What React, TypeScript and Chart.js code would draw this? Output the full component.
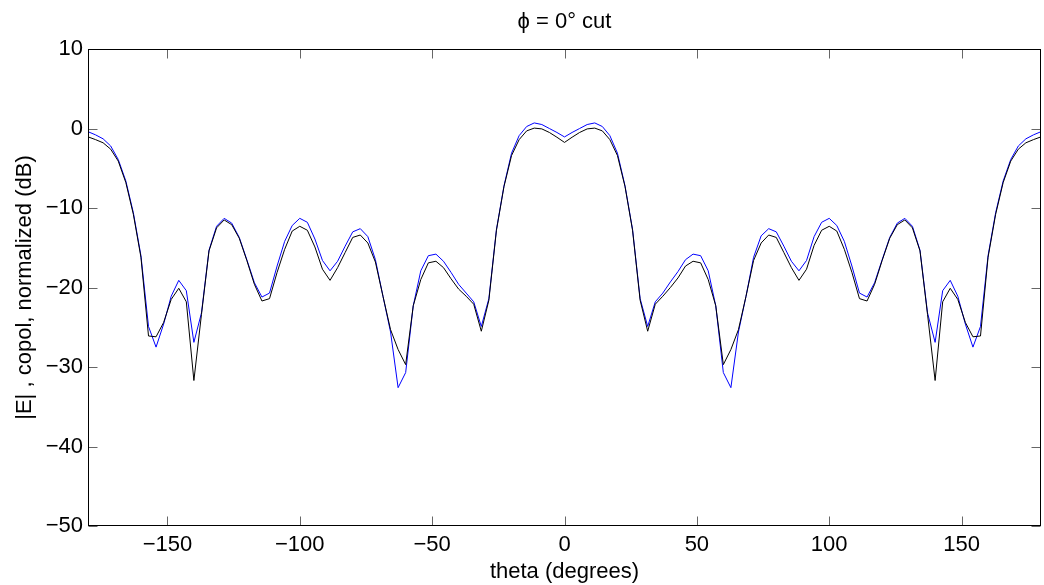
import React, { useEffect, useRef } from 'react';
import { Chart, registerables } from 'chart.js';

Chart.register(...registerables);

// theta grid (degrees), 127 samples from -180 to 180
const theta: number[] = [
  -180, -177.14, -174.29, -171.43, -168.57, -165.71, -162.86,
  -160, -157.14, -154.29, -151.43, -148.57, -145.71, -142.86,
  -140, -137.14, -134.29, -131.43, -128.57, -125.71, -122.86,
  -120, -117.14, -114.29, -111.43, -108.57, -105.71, -102.86,
  -100, -97.14, -94.29, -91.43, -88.57, -85.71, -82.86,
  -80, -77.14, -74.29, -71.43, -68.57, -65.71, -62.86,
  -60, -57.14, -54.29, -51.43, -48.57, -45.71, -42.86,
  -40, -37.14, -34.29, -31.43, -28.57, -25.71, -22.86,
  -20, -17.14, -14.29, -11.43, -8.57, -5.71, -2.86,
  0,
  2.86, 5.71, 8.57, 11.43, 14.29, 17.14, 20,
  22.86, 25.71, 28.57, 31.43, 34.29, 37.14, 40,
  42.86, 45.71, 48.57, 51.43, 54.29, 57.14, 60,
  62.86, 65.71, 68.57, 71.43, 74.29, 77.14, 80,
  82.86, 85.71, 88.57, 91.43, 94.29, 97.14, 100,
  102.86, 105.71, 108.57, 111.43, 114.29, 117.14, 120,
  122.86, 125.71, 128.57, 131.43, 134.29, 137.14, 140,
  142.86, 145.71, 148.57, 151.43, 154.29, 157.14, 160,
  162.86, 165.71, 168.57, 171.43, 174.29, 177.14, 180,
];

// blue trace (dB)
const blueDb: number[] = [
  -0.4, -0.8, -1.3, -2.2, -3.9, -6.6, -10.6, -16.0, -24.9, -27.5,
  -24.6, -21.1, -19.1, -20.4, -26.9, -23.2, -15.3, -12.3, -11.3, -11.9,
  -13.7, -16.5, -19.4, -21.2, -20.7, -17.3, -14.2, -12.2, -11.3, -11.8,
  -13.9, -16.6, -17.9, -16.7, -14.8, -13.0, -12.6, -13.6, -16.5, -21.1,
  -25.6, -32.6, -30.7, -22.3, -17.9, -16.0, -15.8, -16.7, -18.1, -19.6,
  -20.7, -21.8, -24.9, -21.4, -12.7, -7.2, -3.1, -0.9, 0.25, 0.7,
  0.5, 0.0, -0.5,
  -1.06,
  -0.5, 0.0, 0.5, 0.7, 0.25, -0.9, -3.1, -7.2, -12.7, -21.4,
  -24.9, -21.8, -20.7, -19.3, -18.0, -16.5, -15.8, -16.0, -17.9, -22.3,
  -30.7, -32.6, -25.6, -21.1, -16.2, -13.5, -12.6, -13.0, -14.8, -16.7,
  -17.9, -16.6, -13.6, -11.8, -11.3, -12.2, -14.2, -17.3, -20.7, -21.2,
  -19.4, -16.5, -13.7, -11.9, -11.3, -12.3, -15.3, -23.2, -26.9, -20.4,
  -19.1, -21.1, -24.6, -27.5, -24.9, -16.0, -10.6, -6.6, -3.9, -2.2,
  -1.3, -0.8, -0.4,
];

// black trace (dB)
const blackDb: number[] = [
  -1.05, -1.4, -1.8, -2.6, -4.1, -6.8, -10.8, -16.2, -26.1, -26.2,
  -24.4, -21.5, -20.1, -21.8, -31.7, -23.4, -15.4, -12.5, -11.5, -12.1,
  -13.8, -16.6, -19.6, -21.7, -21.4, -18.1, -15.2, -12.9, -12.3, -12.8,
  -14.9, -17.7, -19.1, -17.5, -15.6, -13.7, -13.4, -14.4, -16.8, -21.1,
  -25.3, -27.8, -29.7, -22.3, -19.0, -16.9, -16.7, -17.5, -18.9, -20.2,
  -21.1, -22.1, -25.5, -21.6, -12.8, -7.3, -3.4, -1.4, -0.3, 0.05,
  -0.05, -0.5, -1.1,
  -1.75,
  -1.1, -0.5, -0.05, 0.05, -0.3, -1.4, -3.4, -7.3, -12.8, -21.6,
  -25.5, -22.1, -21.1, -20.0, -18.8, -17.3, -16.7, -16.9, -19.0, -22.3,
  -29.7, -27.8, -25.3, -21.1, -16.6, -14.4, -13.4, -13.7, -15.6, -17.5,
  -19.1, -17.7, -14.7, -12.8, -12.3, -12.9, -15.2, -18.1, -21.4, -21.7,
  -19.6, -16.6, -13.8, -12.1, -11.5, -12.5, -15.4, -23.4, -31.7, -21.8,
  -20.1, -21.5, -24.4, -26.2, -26.1, -16.2, -10.8, -6.8, -4.1, -2.6,
  -1.8, -1.4, -1.05,
];

const xTicks = [-150, -100, -50, 0, 50, 100, 150];
const yTicks = [-50, -40, -30, -20, -10, 0, 10];

const titleText = 'ϕ = 0° cut';
const xTitle = 'theta (degrees)';
const yTitle = '|E| , copol, normalized (dB)';

const FAMILY = "'Liberation Sans', Arial, Helvetica, sans-serif";
const FONT = { family: FAMILY, size: 22, weight: 'normal' as const };

const fmt = (v: number) => (v < 0 ? '\u2212' + Math.abs(v) : String(v));

const framePlugin = {
  id: 'matlabFrame',
  afterDatasetsDraw(chart: any) {
    const { ctx, chartArea } = chart;
    const xs = chart.scales.x;
    const ys = chart.scales.y;
    const L = Math.round(chartArea.left) + 0.5;
    const R = Math.round(chartArea.right) - 0.5;
    const T = Math.round(chartArea.top) + 0.5;
    const B = Math.round(chartArea.bottom) - 0.5;
    const tl = 9;
    ctx.save();
    ctx.lineWidth = 1;
    ctx.strokeStyle = '#666';
    ctx.beginPath();
    xTicks.forEach((v) => {
      const px = Math.round(xs.getPixelForValue(v)) + 0.5;
      ctx.moveTo(px, B);
      ctx.lineTo(px, B - tl);
      ctx.moveTo(px, T);
      ctx.lineTo(px, T + tl);
    });
    yTicks.forEach((v) => {
      const py = Math.round(ys.getPixelForValue(v)) + 0.5;
      ctx.moveTo(L, py);
      ctx.lineTo(L + tl, py);
      ctx.moveTo(R, py);
      ctx.lineTo(R - tl, py);
    });
    ctx.stroke();
    ctx.strokeStyle = '#000';
    ctx.strokeRect(L, T, R - L, B - T);
    ctx.restore();
  },
};

export default function App() {
  const ref = useRef<HTMLCanvasElement | null>(null);

  useEffect(() => {
    if (!ref.current) return;
    const chart = new Chart(ref.current, {
      type: 'line',
      data: {
        datasets: [
          {
            label: 'black',
            data: theta.map((t, i) => ({ x: t, y: blackDb[i] })),
            borderColor: '#000000',
            borderWidth: 1,
            pointRadius: 0,
            tension: 0,
            fill: false,
          },
          {
            label: 'blue',
            data: theta.map((t, i) => ({ x: t, y: blueDb[i] })),
            borderColor: '#0000ff',
            borderWidth: 1,
            pointRadius: 0,
            tension: 0,
            fill: false,
          },
        ],
      },
      options: {
        responsive: false,
        animation: false,
        devicePixelRatio: 1,
        layout: { padding: { left: 0, right: 3, top: 0, bottom: 0 } },
        plugins: {
          legend: { display: false },
          tooltip: { enabled: false },
          title: {
            display: true,
            fullSize: false,
            text: titleText,
            color: '#000',
            font: FONT,
            padding: { top: 8.8, bottom: 13.8 },
          },
        },
        scales: {
          x: {
            type: 'linear',
            min: -180,
            max: 180,
            grid: { display: false, drawTicks: false },
            border: { display: false },
            afterBuildTicks: (s: any) => {
              s.ticks = xTicks.map((v) => ({ value: v }));
            },
            afterFit: (s: any) => {
              s.height = 59;
            },
            ticks: {
              color: '#000',
              font: FONT,
              padding: 6,
              maxRotation: 0,
              autoSkip: false,
              callback: (v: any) => fmt(Number(v)),
            },
            title: {
              display: true,
              text: xTitle,
              color: '#000',
              font: FONT,
              padding: { top: 0, bottom: 0 },
            },
          },
          y: {
            type: 'linear',
            min: -50,
            max: 10,
            grid: { display: false, drawTicks: false },
            border: { display: false },
            afterBuildTicks: (s: any) => {
              s.ticks = yTicks.map((v) => ({ value: v }));
            },
            afterFit: (s: any) => {
              s.width = 88;
            },
            ticks: {
              color: '#000',
              font: FONT,
              padding: 5,
              autoSkip: false,
              callback: (v: any) => fmt(Number(v)),
            },
            title: {
              display: true,
              text: yTitle,
              color: '#000',
              font: FONT,
              padding: { top: 12, bottom: 0 },
            },
          },
        },
      },
      plugins: [framePlugin],
    });
    return () => chart.destroy();
  }, []);

  return (
    <div style={{ position: 'absolute', left: 0, top: 0, width: 1044, height: 585, background: '#fff' }}>
      <canvas ref={ref} width={1044} height={585} />
    </div>
  );
}
